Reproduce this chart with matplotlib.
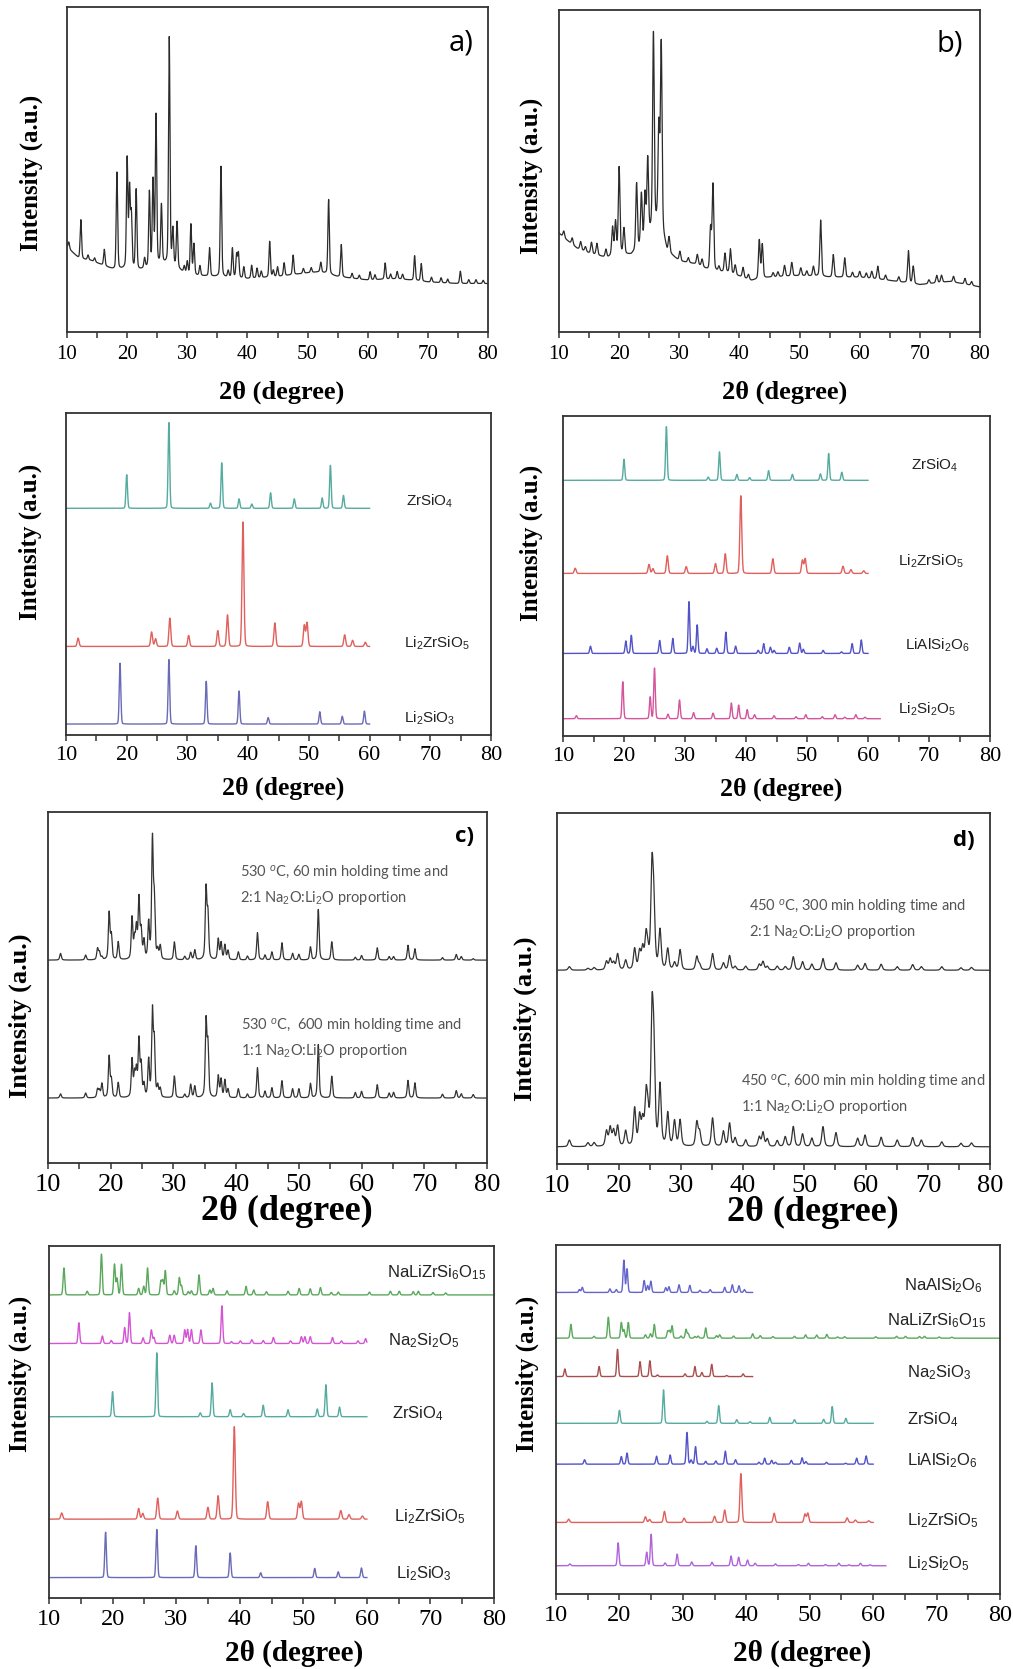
import numpy as np
import matplotlib
matplotlib.use("Agg")
import matplotlib.pyplot as plt
from matplotlib.ticker import MultipleLocator

plt.rcParams['mathtext.fontset'] = 'custom'
plt.rcParams['mathtext.rm'] = 'Liberation Sans'
plt.rcParams['mathtext.it'] = 'Liberation Sans:italic'
plt.rcParams['mathtext.bf'] = 'Liberation Sans:bold'

SERIF = 'Liberation Serif'
SANS = 'Liberation Sans'

# ---------------- reference patterns (peak position, relative intensity %) ----------------
ZRSIO4_POS = [20.0, 26.95, 33.8, 35.65, 38.5, 40.6, 43.7, 47.6, 52.2, 53.55, 55.7]
ZRSIO4_INT = [39, 100, 6, 53, 11, 5, 18, 11, 12, 50, 15]

LI2ZRSIO5_POS = [12.0, 24.1, 24.75, 27.1, 30.2, 35.0, 36.6, 39.15, 44.4, 49.25, 49.7, 55.9, 57.2, 59.3]
LI2ZRSIO5_INT = [6.7, 11.6, 6.2, 22.7, 8.8, 12.7, 25.3, 100, 18.9, 17, 19, 9.3, 4.9, 3.4]

LI2SIO3_POS = [18.9, 26.95, 33.1, 38.5, 43.3, 51.8, 55.5, 59.15]
LI2SIO3_INT = [94, 100, 66, 51, 10, 19, 12, 20]

LIALSI2O6_POS = [14.5, 20.3, 21.2, 25.85, 28.0, 30.65, 31.3, 32.0, 33.6, 35.2, 36.7, 38.3, 42.0,
                 42.9, 44.0, 44.6, 47.1, 48.8, 49.4, 52.65, 55.65, 57.4, 58.9]
LIALSI2O6_INT = [14, 24, 35, 25, 29, 100, 13, 55, 9, 10, 41, 14, 6, 19, 12, 6, 12, 20, 8, 6, 3, 19, 26]

LI2SI2O5_POS = [12.2, 19.8, 24.3, 25.0, 27.2, 29.1, 31.4, 34.6, 37.6, 38.8, 40.2, 41.4, 44.6,
                48.2, 49.8, 52.5, 54.6, 56.2, 58.0, 59.5]
LI2SI2O5_INT = [6, 73, 43, 100, 9, 37, 12, 11, 31, 27, 18, 8, 6, 4, 8, 4, 8, 3, 8, 3]

NALIZRSI6O15_POS = [12.35, 16.0, 18.25, 20.3, 20.7, 21.4, 24.1, 24.9, 25.5, 27.6, 27.9, 28.3, 29.7,
                    30.5, 30.85, 31.9, 32.4, 33.6, 35.3, 35.8, 38.0, 41.0, 42.2, 44.2, 47.6, 49.35,
                    51.1, 52.7, 54.4, 55.5, 60.4, 63.7, 65.1, 67.3, 68.1, 70.4, 72.4]
NALIZRSI6O15_INT = [66, 9, 100, 75, 40, 75, 16, 21, 66, 33, 34, 59, 10, 42, 22, 8, 10, 49, 12, 16,
                    10, 21, 12, 8, 9, 16, 15, 18, 6, 7, 7, 9, 9, 8, 9, 6, 5]

NA2SI2O5_POS = [14.7, 18.4, 19.8, 21.9, 22.65, 24.8, 26.1, 26.5, 29.0, 29.7, 31.35, 31.8, 32.4,
                33.9, 37.2, 38.7, 40.1, 41.9, 43.7, 45.3, 48.0, 49.7, 50.25, 51.1, 54.6, 56.0, 58.6, 59.8]
NA2SI2O5_INT = [55, 20, 8, 42, 82, 15, 36, 16, 22, 22, 36, 37, 37, 36, 100, 5, 7, 10, 8, 16, 7,
                18, 18, 18, 16, 7, 7, 13]

NAALSI2O6_POS = [13.7, 14.15, 18.5, 19.5, 20.7, 21.2, 23.9, 24.45, 24.95, 27.3, 27.8, 29.4, 31.1,
                 32.7, 34.3, 36.6, 37.8, 38.85, 39.7]
NAALSI2O6_INT = [9, 16, 11, 9, 100, 73, 37, 21, 35, 15, 18, 24, 22, 7, 9, 16, 24, 21, 9]

NA2SIO3_POS = [11.4, 16.8, 19.7, 23.25, 24.8, 26.0, 30.35, 31.9, 33.0, 34.55, 36.9, 39.5]
NA2SIO3_INT = [28, 37, 100, 55, 58, 6, 10, 37, 15, 45, 4, 10]

# ---------------- panel a (experimental) ----------------
A_BASE_X = [10, 12, 14, 16, 18, 20, 22, 24, 26, 28, 30, 35, 40, 45, 50, 52, 55, 60, 65, 70, 75, 80]
A_BASE_Y = [26.2, 22.6, 22, 20.5, 19, 19.5, 19, 20, 21, 20, 17.5, 17, 16.4, 17, 18.2, 18.5, 17,
            16, 16.4, 15.4, 14.9, 14.9]
A_POS = [12.3, 16.2, 18.3, 20.0, 20.4, 20.7, 21.5, 22.9, 23.7, 24.3, 24.8, 25.7, 27.0, 27.6, 28.3,
         30.0, 30.6, 31.1, 32.1, 33.7, 35.6, 37.5, 38.2, 38.5, 39.4, 40.7, 41.6, 43.7, 45.0, 46.1,
         47.6, 52.2, 53.5, 55.6, 60.4, 62.9, 64.9, 67.8, 68.9, 75.4,
         10.3, 13.5, 14.6, 29.5, 36.8, 42.3, 44.3, 49.3, 50.6, 57.4, 58.6, 61.2, 63.8, 65.8,
         70.6, 72.2, 73.3, 76.8, 78.0, 79.2]
A_HGT = [12, 5, 30, 33.5, 24, 16, 24.5, 3, 23, 26, 46, 18, 70, 11, 14, 4, 15.5, 9.5, 3, 8.7, 34,
         9, 7, 7.5, 3.5, 4, 3, 11, 3, 4, 6, 3, 23, 10, 2.5, 5, 2.2, 7.6, 5.4, 3.8,
         2, 1.5, 1.2, 2, 2, 2, 2, 1.5, 1.5, 1.5, 1.2, 1.5, 1.5, 1.5, 1.5, 1.5, 1.2, 1.2, 1.2, 1.0]

# ---------------- panel b (experimental) ----------------
B_BASE_X = [10, 11, 13, 15, 18, 19, 22, 24, 25.5, 26.3, 27, 28, 30, 33, 35, 38, 40, 42, 45, 50,
            53, 55, 60, 65, 70, 75, 80]
B_BASE_Y = [30.7, 29, 26, 24.5, 23, 24, 24, 27, 32, 34, 32, 25, 22, 21, 19, 18.5, 17.3, 16, 17,
            17.5, 17.3, 17, 17, 16, 14.7, 15.7, 14]
B_POS = [15.4, 16.3, 17.8, 18.9, 19.4, 20.0, 20.8, 22.9, 23.7, 24.3, 24.75, 25.7, 26.6, 27.0,
         28.3, 30.1, 33.0, 33.8, 35.2, 35.6, 37.6, 38.5, 39.3, 40.6, 43.3, 43.8, 45.6, 47.5, 48.7,
         50.2, 52.3, 53.5, 55.6, 57.5, 60.0, 62.0, 63.0, 68.1, 68.9, 72.8, 73.6, 75.6, 77.5,
         10.8, 12.2, 13.6, 14.4, 31.5, 36.6, 41.5, 46.4, 51.2, 58.8, 61.1, 64.3, 66.5, 71.5, 78.6]
B_HGT = [3.5, 3.6, 2.5, 8.5, 10, 27, 8, 20.6, 16, 14.5, 24, 60, 30, 57, 4.7, 3, 3, 2.3, 13, 26.7,
         5.8, 7.5, 3, 3.1, 12, 10.5, 1.3, 3.4, 4.2, 2.4, 3, 17.5, 7, 6, 1.8, 2.2, 4, 10, 5.4, 2.3,
         2.2, 1.8, 1.8,
         2, 2, 2.5, 1.5, 1.5, 1.5, 1.5, 1.5, 1.5, 1.5, 1.5, 1.5, 1.5, 1.2, 1.2]

# ---------------- panel c (experimental, two patterns) ----------------
C_POS = [12.0, 16.0, 17.9, 18.2, 18.6, 19.75, 20.1, 21.2, 23.4, 23.8, 24.1, 24.5, 24.85, 25.3,
         26.05, 26.65, 26.95, 27.5, 27.9, 30.15, 31.8, 32.75, 33.4, 35.2, 35.5, 37.15, 37.6, 38.2,
         38.7, 40.35, 41.8, 43.4, 44.6, 45.7, 47.3, 49.0, 50.0, 51.85, 53.1, 55.25, 59.0, 60.0,
         62.5, 64.4, 65.1, 67.4, 68.5, 72.9, 75.1, 75.9, 77.8]
C_TOP_HGT = [1.9, 1.4, 3.2, 2.1, 0.8, 13.3, 6.8, 5.1, 11.8, 5.4, 8.6, 17.0, 7.8, 5.1, 10.2, 33.5,
             16.0, 2.5, 3.8, 5.1, 1.0, 2.1, 2.8, 20.0, 12.5, 5.9, 4.8, 4.2, 2.6, 2.3, 1.1, 7.8, 1.4,
             2.3, 4.9, 1.9, 1.6, 3.7, 14.4, 5.2, 0.8, 1.3, 3.5, 1.0, 1.0, 4.2, 3.2, 0.7, 1.6, 1.0, 0.4]
C_BOT_HGT = [1.2, 1.4, 2.4, 2.0, 4.0, 11.7, 5.0, 4.3, 10.7, 6.3, 7.3, 16.0, 9.0, 3.5, 10.5, 24.0,
             15.0, 3.1, 2.5, 6.2, 1.0, 3.8, 3.3, 21.5, 14.5, 6.2, 5.2, 5.0, 2.4, 2.6, 1.1, 8.6, 1.9,
             2.9, 4.9, 2.6, 2.6, 4.1, 15.2, 6.2, 1.6, 1.9, 3.8, 1.4, 1.6, 5.0, 4.3, 1.1, 2.1, 1.2, 1.0]
C_TOP_BASE = 57.8
C_BOT_BASE = 18.5

# ---------------- panel d (experimental, two patterns) ----------------
D_POS = [12.0, 15.0, 16.0, 18.0, 18.6, 19.15, 19.8, 21.1, 22.55, 23.35, 23.85, 24.4, 24.7, 25.35,
         25.65, 26.65, 27.9, 29.0, 29.9, 32.6, 33.05, 35.15, 36.9, 37.9, 38.8, 40.5, 42.7, 43.3,
         44.0, 45.6, 46.9, 48.2, 49.7, 51.2, 53.0, 55.1, 58.6, 59.8, 62.4, 65.0, 67.5, 68.9,
         72.2, 75.3, 77.0]
D_TOP_HGT = [1.0, 0.5, 0.7, 2.4, 3.1, 2.0, 4.5, 2.7, 5.9, 4.9, 5.7, 9.0, 3.5, 27.0, 16.0, 11.0,
             5.9, 2.0, 5.7, 3.8, 1.5, 4.7, 2.0, 4.1, 1.0, 1.1, 1.6, 2.4, 1.0, 1.1, 1.0, 3.8, 2.4,
             1.7, 3.3, 2.1, 1.4, 1.9, 1.7, 1.0, 1.6, 1.0, 1.0, 0.7, 0.8]
D_BOT_HGT = [1.9, 1.1, 1.1, 4.3, 5.2, 4.3, 5.7, 4.3, 10.6, 8.1, 6.6, 13.0, 7.0, 34.0, 24.0, 17.0,
             9.3, 7.1, 7.4, 6.8, 4.0, 8.1, 4.3, 6.6, 2.4, 1.9, 2.7, 4.0, 2.1, 1.7, 2.8, 5.7, 3.6,
             2.4, 5.7, 4.0, 2.4, 3.3, 2.7, 1.9, 2.6, 1.9, 1.4, 1.0, 1.1]
D_TOP_BASE = 55.2
D_BOT_BASE = 4.9

XTICKS = [10, 20, 30, 40, 50, 60, 70, 80]

# colours
C_ZR = '#55ab9f'
C_LZS = '#e0605c'
C_LS = '#6a6ab6'
C_LAS = '#5252c9'
C_LS2_PINK = '#d4559c'
C_LS2_VIOLET = '#b064da'
C_NLZS = '#5aa85c'
C_NS2 = '#d455d4'
C_NAS = '#6464cc'
C_NS = '#a84e4e'
C_EXP = '#2b2b2b'


def profile(x, pos, amp, fwhm, eta):
    p = np.asarray(pos, float)[:, None]
    a = np.asarray(amp, float)[:, None]
    d = (x[None, :] - p) / (fwhm / 2.0)
    lor = 1.0 / (1.0 + d ** 2)
    gau = np.exp(-np.log(2) * d ** 2)
    return (a * (eta * lor + (1 - eta) * gau)).sum(axis=0)


def ref_curve(pos, rel, offset, scale, xmax, fwhm=0.3):
    x = np.arange(10.0, xmax + 1e-9, 0.02)
    y = offset + profile(x, pos, np.asarray(rel) * scale / 100.0, fwhm, 0.1)
    return x, y


fig = plt.figure(figsize=(10.13, 16.69), dpi=100)
W, H = 1013.0, 1669.0


def make_axes(l, r, t, b, tick_fs, xl_fs, yl_fs, xl_coords, yl_coords, pad=4):
    ax = fig.add_axes([l / W, 1 - b / H, (r - l) / W, (b - t) / H])
    ax.set_xlim(10, 80)
    ax.set_ylim(0, 100)
    ax.set_yticks([])
    ax.set_xticks(XTICKS)
    ax.xaxis.set_minor_locator(MultipleLocator(5))
    ax.tick_params(axis='x', which='both', direction='out', length=4, width=1.1,
                   color='#333333', pad=pad, top=False)
    ax.tick_params(axis='x', which='major', labelsize=tick_fs)
    for lab in ax.get_xticklabels():
        lab.set_fontfamily(SERIF)
    for s in ax.spines.values():
        s.set_linewidth(1.3)
        s.set_color('#333333')
    ax.set_xlabel('2θ (degree)', fontfamily=SERIF, fontweight='bold', fontsize=xl_fs)
    ax.set_ylabel('Intensity (a.u.)', fontfamily=SERIF, fontweight='bold', fontsize=yl_fs)
    ax.xaxis.set_label_coords(*xl_coords)
    ax.yaxis.set_label_coords(*yl_coords)
    return ax


# ---------- a ----------
axa = make_axes(67, 488, 7, 332, 15, 19, 18, (0.51, -0.15), (-0.057, 0.49), pad=5)
x = np.arange(10.0, 80.0001, 0.02)
ya = np.interp(x, A_BASE_X, A_BASE_Y) + profile(x, A_POS, A_HGT, 0.28, 0.3)
axa.plot(x, ya, color=C_EXP, lw=0.9)
axa.text(75.5, 89, 'a)', fontfamily='Open Sans', fontsize=21, ha='center', va='center')

# ---------- b ----------
axb = make_axes(559, 980, 10, 332, 15, 19, 18, (0.535, -0.15), (-0.038, 0.485), pad=5)
yb = np.interp(x, B_BASE_X, B_BASE_Y) + profile(x, B_POS, B_HGT, 0.32, 0.3)
axb.plot(x, yb, color=C_EXP, lw=0.9)
axb.text(75.0, 89.5, 'b)', fontfamily='Open Sans', fontsize=21, ha='center', va='center')

# ---------- row 2 left ----------
ax2l = make_axes(66, 491, 413, 735, 16, 18.5, 18, (0.51, -0.13), (-0.056, 0.60))
for pos, rel, off, sc, xm, col, lab, lx, ly, w in [
        (ZRSIO4_POS, ZRSIO4_INT, 70.4, 26.7, 60, C_ZR, 'ZrSiO$_4$', 66.0, 72.5, 0.3),
        (LI2ZRSIO5_POS, LI2ZRSIO5_INT, 27.5, 38.7, 60, C_LZS, 'Li$_2$ZrSiO$_5$', 65.6, 28.5, 0.36),
        (LI2SIO3_POS, LI2SIO3_INT, 3.4, 20.1, 60, C_LS, 'Li$_2$SiO$_3$', 65.7, 5.2, 0.3)]:
    xx, yy = ref_curve(pos, rel, off, sc, xm, w)
    ax2l.plot(xx, yy, color=col, lw=1.0)
    ax2l.text(lx, ly, lab, fontfamily=SANS, fontsize=11, ha='left', va='center', color='#222222')

# ---------- row 2 right ----------
ax2r = make_axes(563, 990, 416, 736, 16, 18.5, 18, (0.51, -0.13), (-0.047, 0.605))
for pos, rel, off, sc, xm, col, lab, lx, ly, w in [
        (ZRSIO4_POS, ZRSIO4_INT, 79.9, 16.8, 60, C_ZR, 'ZrSiO$_4$', 67.1, 84.5, 0.3),
        (LI2ZRSIO5_POS, LI2ZRSIO5_INT, 50.8, 24.3, 60, C_LZS, 'Li$_2$ZrSiO$_5$', 64.9, 54.5, 0.36),
        (LIALSI2O6_POS, LIALSI2O6_INT, 25.8, 16.2, 60, C_LAS, 'LiAlSi$_2$O$_6$', 66.0, 28.5, 0.3),
        (LI2SI2O5_POS, LI2SI2O5_INT, 5.4, 15.8, 62, C_LS2_PINK, 'Li$_2$Si$_2$O$_5$', 64.9, 8.5, 0.3)]:
    xx, yy = ref_curve(pos, rel, off, sc, xm, w)
    ax2r.plot(xx, yy, color=col, lw=1.0)
    ax2r.text(lx, ly, lab, fontfamily=SANS, fontsize=11, ha='left', va='center', color='#222222')

# ---------- c ----------
axc = make_axes(48, 487, 812, 1163, 19, 26, 19, (0.545, -0.09), (-0.036, 0.42))
axc.plot(x, C_TOP_BASE + profile(x, C_POS, C_TOP_HGT, 0.3, 0.5), color='#333333', lw=0.9)
axc.plot(x, C_BOT_BASE + profile(x, C_POS, C_BOT_HGT, 0.3, 0.5), color='#333333', lw=0.9)
axc.text(40.6, 79.1, '530 $^{o}$C, 60 min holding time and\n2:1 Na$_2$O:Li$_2$O proportion',
         fontfamily='Lato', fontsize=10.5, color='#555555', ha='left', va='center', linespacing=1.45)
axc.text(40.7, 35.4, '530 $^{o}$C,  600 min holding time and\n1:1 Na$_2$O:Li$_2$O proportion',
         fontfamily='Lato', fontsize=10.5, color='#555555', ha='left', va='center', linespacing=1.45)
axc.text(76.4, 93.0, 'c)', fontfamily='Open Sans', fontweight='bold', fontsize=16, ha='center', va='center')

# ---------- d ----------
axd = make_axes(557, 990, 813, 1164, 19, 26, 19, (0.59, -0.09), (-0.046, 0.415))
axd.plot(x, D_TOP_BASE + profile(x, D_POS, D_TOP_HGT, 0.45, 0.5), color='#333333', lw=0.9)
axd.plot(x, D_BOT_BASE + profile(x, D_POS, D_BOT_HGT, 0.45, 0.5), color='#333333', lw=0.9)
axd.text(41.1, 69.7, '450 $^{o}$C, 300 min holding time and\n2:1 Na$_2$O:Li$_2$O proportion',
         fontfamily='Lato', fontsize=10.5, color='#555555', ha='left', va='center', linespacing=1.45)
axd.text(39.7, 19.9, '450 $^{o}$C, 600 min min holding time and\n1:1 Na$_2$O:Li$_2$O proportion',
         fontfamily='Lato', fontsize=10.5, color='#555555', ha='left', va='center', linespacing=1.45)
axd.text(75.7, 92.2, 'd)', fontfamily='Open Sans', fontweight='bold', fontsize=16, ha='center', va='center')

# ---------- bottom left ----------
ax4l = make_axes(49, 494, 1246, 1598, 17.5, 21, 18, (0.55, -0.118), (-0.038, 0.636))
for pos, rel, off, sc, xm, col, lab, lx, ly, w in [
        (NALIZRSI6O15_POS, NALIZRSI6O15_INT, 86.1, 11.6, 80, C_NLZS, 'NaLiZrSi$_6$O$_{15}$', 63.1, 92.5, 0.3),
        (NA2SI2O5_POS, NA2SI2O5_INT, 72.3, 10.7, 60, C_NS2, 'Na$_2$Si$_2$O$_5$', 63.4, 73.2, 0.3),
        (ZRSIO4_POS, ZRSIO4_INT, 51.5, 18.2, 60, C_ZR, 'ZrSiO$_4$', 64.0, 52.5, 0.3),
        (LI2ZRSIO5_POS, LI2ZRSIO5_INT, 22.4, 26.3, 60, C_LZS, 'Li$_2$ZrSiO$_5$', 64.3, 23.2, 0.36),
        (LI2SIO3_POS, LI2SIO3_INT, 5.8, 13.7, 60, C_LS, 'Li$_2$SiO$_3$', 64.6, 6.8, 0.3)]:
    xx, yy = ref_curve(pos, rel, off, sc, xm, w)
    ax4l.plot(xx, yy, color=col, lw=1.0)
    ax4l.text(lx, ly, lab, fontfamily=SANS, fontsize=12, ha='left', va='center', color='#222222')

# ---------- bottom right ----------
ax4r = make_axes(556, 1000, 1245, 1594, 17.5, 21, 18, (0.555, -0.13), (-0.038, 0.63))
for pos, rel, off, sc, xm, col, lab, lx, ly, w in [
        (NAALSI2O6_POS, NAALSI2O6_INT, 86.4, 9.2, 41, C_NAS, 'NaAlSi$_2$O$_6$', 64.8, 88.3, 0.3),
        (NALIZRSI6O15_POS, NALIZRSI6O15_INT, 73.3, 6.0, 80, C_NLZS, 'NaLiZrSi$_6$O$_{15}$', 62.2, 78.3, 0.3),
        (NA2SIO3_POS, NA2SIO3_INT, 62.3, 7.8, 41, C_NS, 'Na$_2$SiO$_3$', 65.4, 63.3, 0.3),
        (ZRSIO4_POS, ZRSIO4_INT, 48.9, 9.6, 60, C_ZR, 'ZrSiO$_4$', 65.4, 50.1, 0.3),
        (LIALSI2O6_POS, LIALSI2O6_INT, 37.2, 9.1, 60, C_LAS, 'LiAlSi$_2$O$_6$', 65.4, 38.1, 0.3),
        (LI2ZRSIO5_POS, LI2ZRSIO5_INT, 20.5, 14.0, 60, C_LZS, 'Li$_2$ZrSiO$_5$', 65.4, 21.1, 0.36),
        (LI2SI2O5_POS, LI2SI2O5_INT, 8.1, 9.0, 62, C_LS2_VIOLET, 'Li$_2$Si$_2$O$_5$', 65.4, 8.8, 0.3)]:
    xx, yy = ref_curve(pos, rel, off, sc, xm, w)
    ax4r.plot(xx, yy, color=col, lw=1.0)
    ax4r.text(lx, ly, lab, fontfamily=SANS, fontsize=12, ha='left', va='center', color='#222222')

fig.savefig('out.png', dpi=100)
